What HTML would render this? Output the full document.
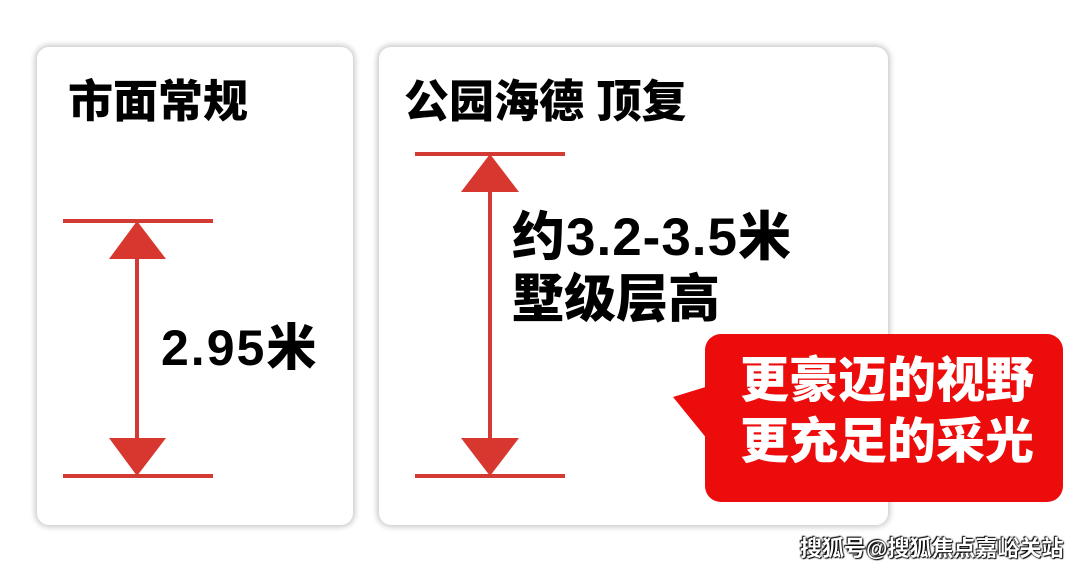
<!DOCTYPE html>
<html><head><meta charset="utf-8"><style>
body{margin:0;width:1080px;height:574px;background:#fff;position:relative;overflow:hidden;font-family:"Liberation Sans","Noto Sans CJK SC",sans-serif;}
.card{position:absolute;background:#fff;border-radius:12px;box-shadow:0 0 6px 2px rgba(0,0,0,0.22);}
.t{position:absolute;font-weight:900;color:#000;white-space:nowrap;line-height:1;}
svg{position:absolute;left:0;top:0;}
</style></head><body>
<div class="card" style="left:37px;top:47px;width:316px;height:478px"></div>
<div class="card" style="left:379px;top:47px;width:509px;height:478px"></div>
<svg width="1080" height="574">
<g stroke="#d23a33" stroke-width="4">
<line x1="63" y1="221" x2="213" y2="221"/><line x1="63" y1="476" x2="213" y2="476"/><line x1="137" y1="250" x2="137" y2="450"/>
<line x1="415" y1="154" x2="565" y2="154"/><line x1="415" y1="476" x2="565" y2="476"/><line x1="490" y1="185" x2="490" y2="445"/>
</g>
<g fill="#d7372f">
<polygon points="137,221 109,259 166,259"/><polygon points="137,476 109,438 166,438"/>
<polygon points="490,154 461,192 519,192"/><polygon points="490,476 461,438 519,438"/>
</g>
<g fill="#ec0c0c">
<polygon points="673,397 712,385 712,445"/>
<rect x="705" y="334" width="358" height="168" rx="16"/>
</g>
</svg>
<div class="t" style="left:68px;top:79px;font-size:45px">市面常规</div>
<div class="t" style="left:404px;top:79px;font-size:45px">公园海德 顶复</div>
<div class="t" style="left:161px;top:323px;font-size:50px;letter-spacing:2px">2.95米</div>
<div class="t" style="left:512px;top:211px;font-size:53px;letter-spacing:1px">约3.2-3.5米</div>
<div class="t" style="left:512px;top:274px;font-size:52px">墅级层高</div>
<div class="t" style="left:740px;top:357px;font-size:49px;color:#fff">更豪迈的视野</div>
<div class="t" style="left:740px;top:418px;font-size:49px;color:#fff">更充足的采光</div>
<div class="t" style="left:800px;top:538px;font-size:22px;font-weight:700;color:#fff;text-shadow:0 0 2px #000,1px 1px 1px #000,-1px -1px 1px #000">搜狐号@搜狐焦点嘉峪关站</div>
</body></html>
